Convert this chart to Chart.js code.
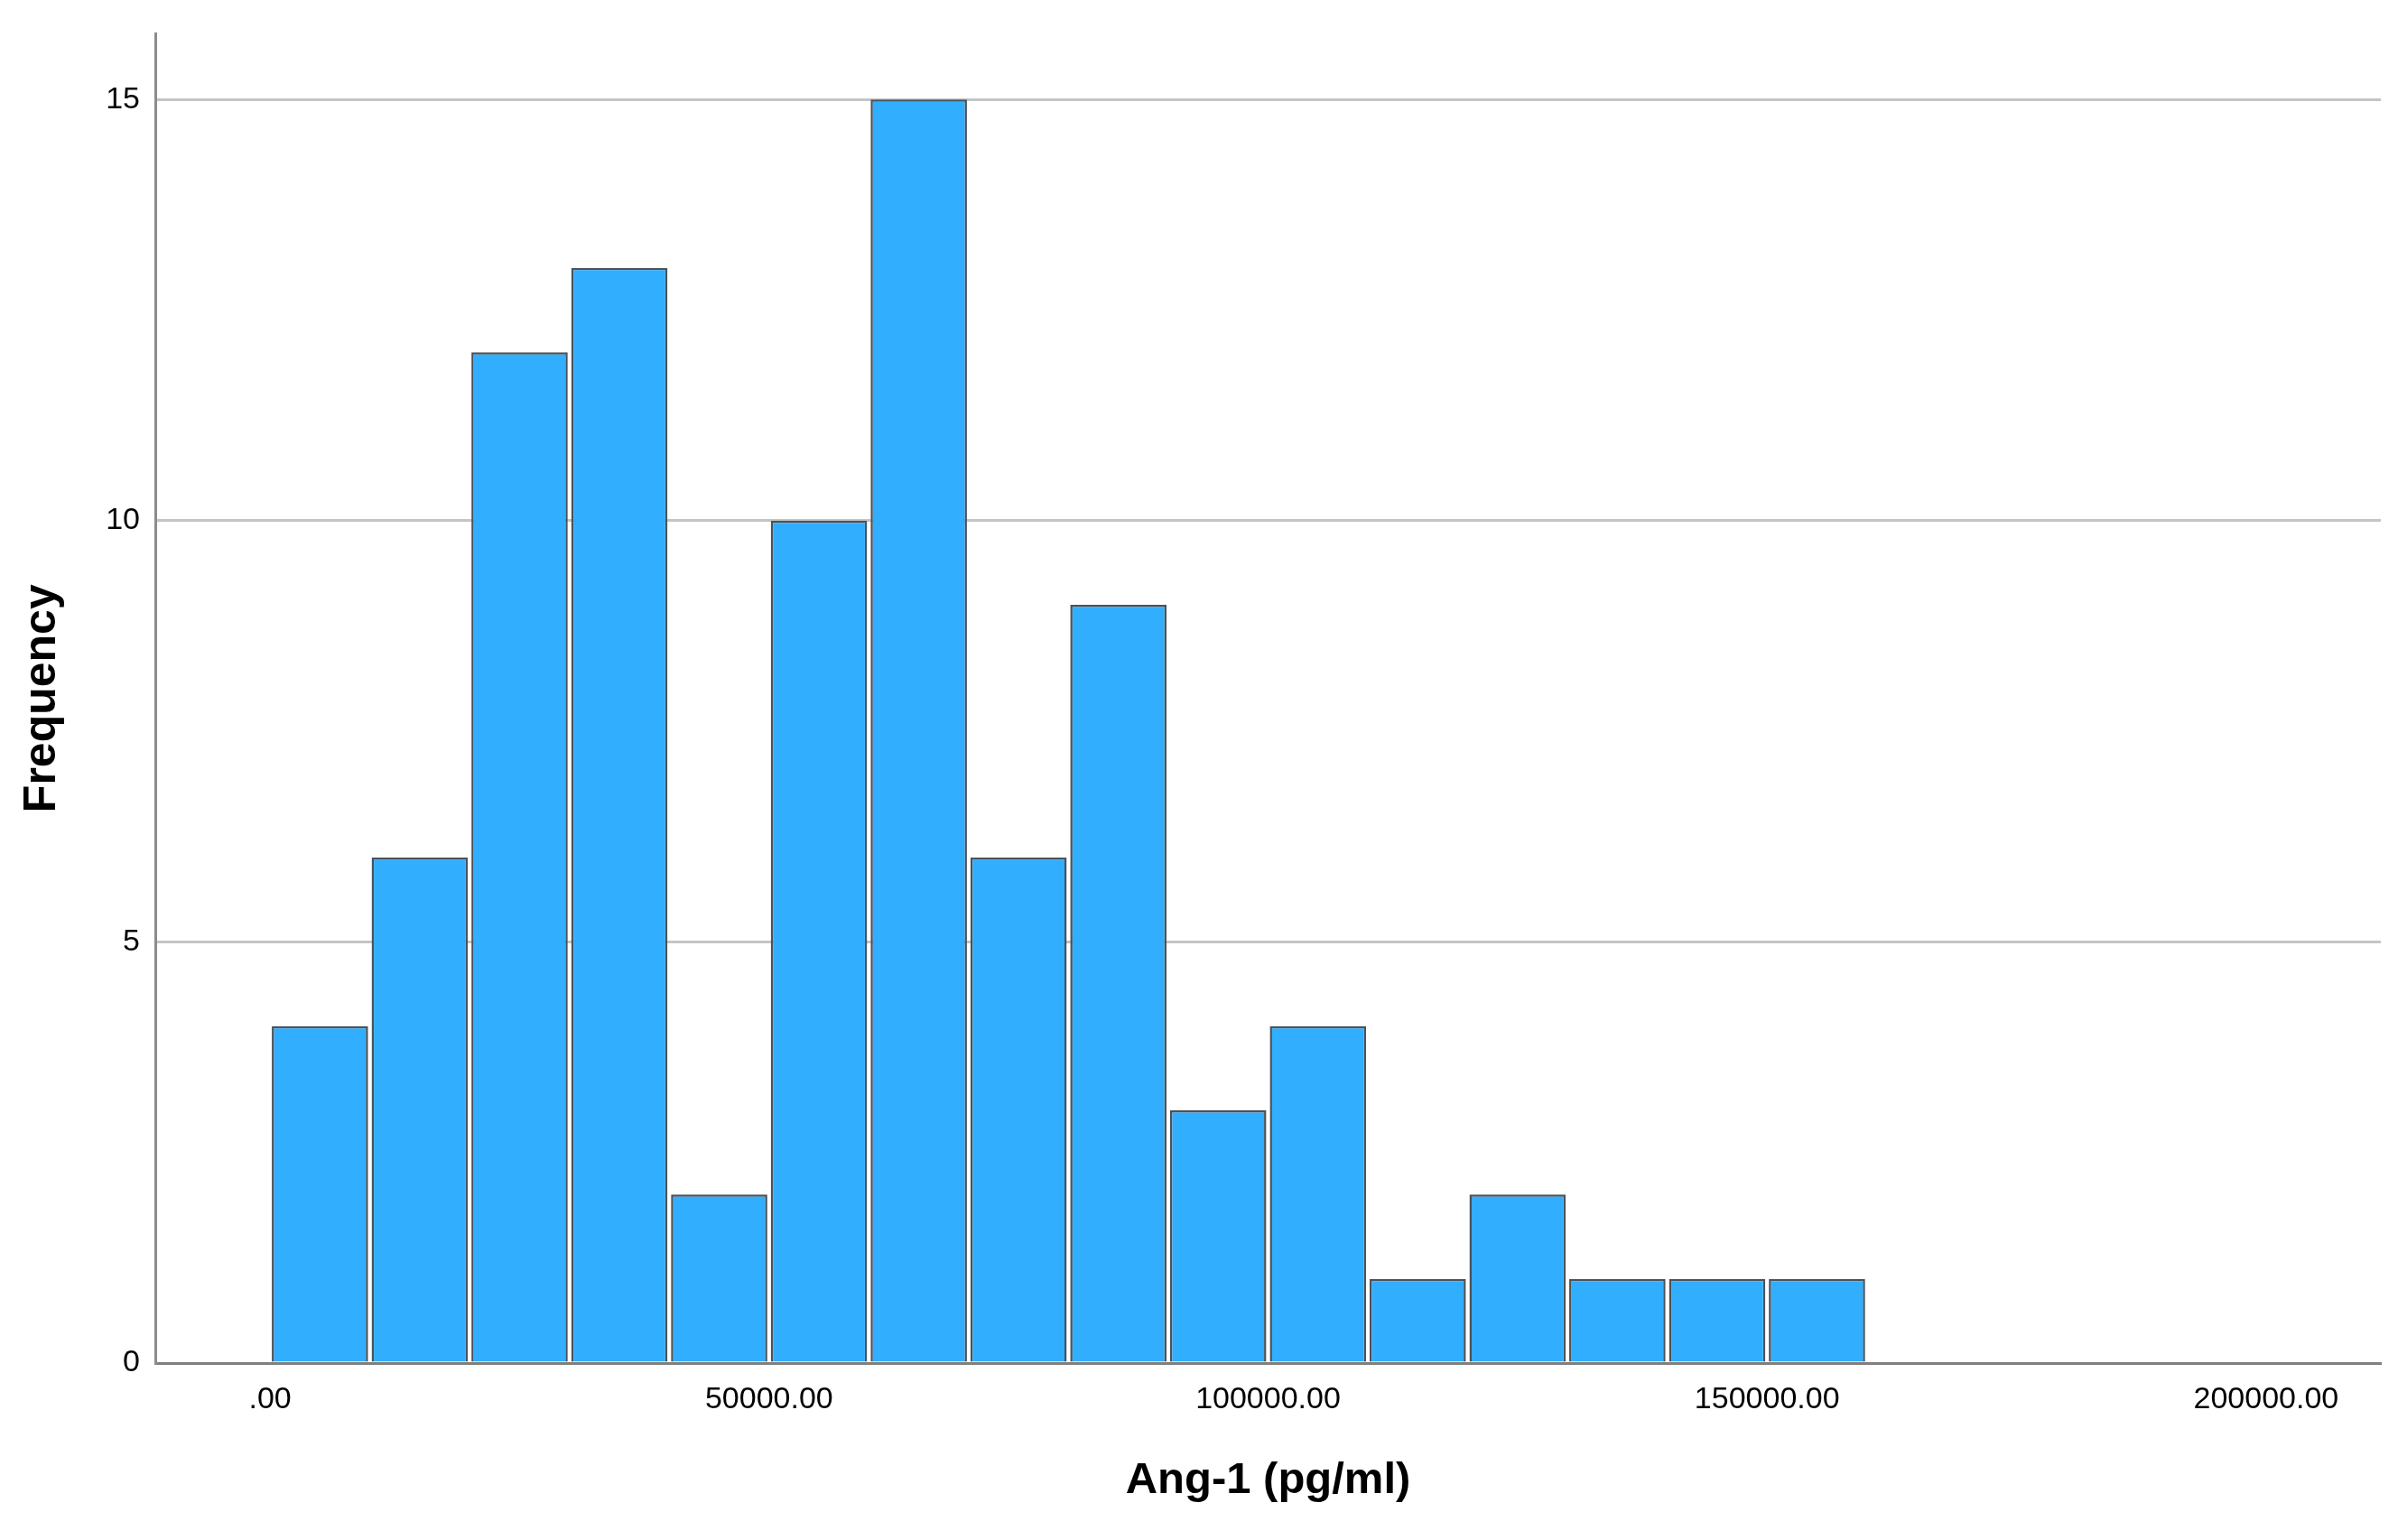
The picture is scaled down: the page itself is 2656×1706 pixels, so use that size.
<!DOCTYPE html>
<html>
<head>
<meta charset="utf-8">
<script src="https://cdn.jsdelivr.net/npm/chart.js@4.4.0/dist/chart.umd.min.js"></script>
<style>
  html, body { margin: 0; padding: 0; background: #fff; }
  #wrap { width: 2656px; height: 1706px; }
</style>
</head>
<body>
<div id="wrap"><canvas id="hist" width="2656" height="1706"></canvas></div>
<script>
// histogram bins (Ang-1, pg/ml) and their counts
const binStarts = [0, 10000, 20000, 30000, 40000, 50000, 60000, 70000,
                   80000, 90000, 100000, 110000, 120000, 130000, 140000, 150000];
const binWidth = 10000;
const counts = [4, 6, 12, 13, 2, 10, 15, 6, 9, 3, 4, 1, 2, 1, 1, 1];
const xTicks = [0, 50000, 100000, 150000, 200000];
const yTicks = [0, 5, 10, 15];

const fontFamily = '"Liberation Sans", Arial, sans-serif';

const points = binStarts.map((s, i) => ({ x: s + binWidth / 2, y: counts[i] }));

const ctx = document.getElementById('hist').getContext('2d');
new Chart(ctx, {
    type: 'bar',
    data: {
        datasets: [{
            label: 'Frequency',
            data: points,
            backgroundColor: '#31aefe',
            borderColor: '#4a525a',
            borderWidth: 2.5,
            barPercentage: 1.0,
            categoryPercentage: 0.965
        }]
    },
    options: {
        responsive: false,
        animation: false,
        layout: {
            padding: { top: 22, right: 19, bottom: 0, left: 0 }
        },
        plugins: {
            legend: { display: false },
            tooltip: { enabled: false }
        },
        scales: {
            x: {
                type: 'linear',
                offset: false,
                min: -11500,
                max: 211500,
                afterBuildTicks: (axis) => {
                    axis.ticks = xTicks.map(v => ({ value: v }));
                },
                afterFit: (axis) => { axis.height = 196; },
                grid: {
                    display: true,
                    offset: false,
                    color: 'rgba(0,0,0,0)',
                    drawTicks: false
                },
                border: { display: true, color: '#7f7f7f', width: 3 },
                ticks: {
                    padding: 20,
                    maxRotation: 0,
                    autoSkip: false,
                    color: '#000',
                    font: { family: fontFamily, size: 34 },
                    callback: (v) => v === 0 ? '.00' : v.toFixed(2)
                },
                title: {
                    display: true,
                    text: 'Ang-1 (pg/ml)',
                    color: '#000',
                    font: { family: fontFamily, size: 49, weight: 'bold' },
                    padding: { top: 0, bottom: 36 }
                }
            },
            y: {
                min: 0,
                max: 15.78,
                afterBuildTicks: (axis) => {
                    axis.ticks = yTicks.map(v => ({ value: v }));
                },
                afterFit: (axis) => { axis.width = 172; },
                grid: {
                    color: (c) => c.tick && c.tick.value === 0 ? 'rgba(0,0,0,0)' : '#c4c4c4',
                    lineWidth: 3,
                    drawTicks: false
                },
                border: { display: true, color: '#8c8c8c', width: 3 },
                ticks: {
                    padding: 17,
                    color: '#000',
                    font: { family: fontFamily, size: 34 }
                },
                title: {
                    display: true,
                    text: 'Frequency',
                    color: '#000',
                    font: { family: fontFamily, size: 50, weight: 'bold' },
                    padding: { top: 17, bottom: 0 }
                }
            }
        }
    }
});
</script>
</body>
</html>
